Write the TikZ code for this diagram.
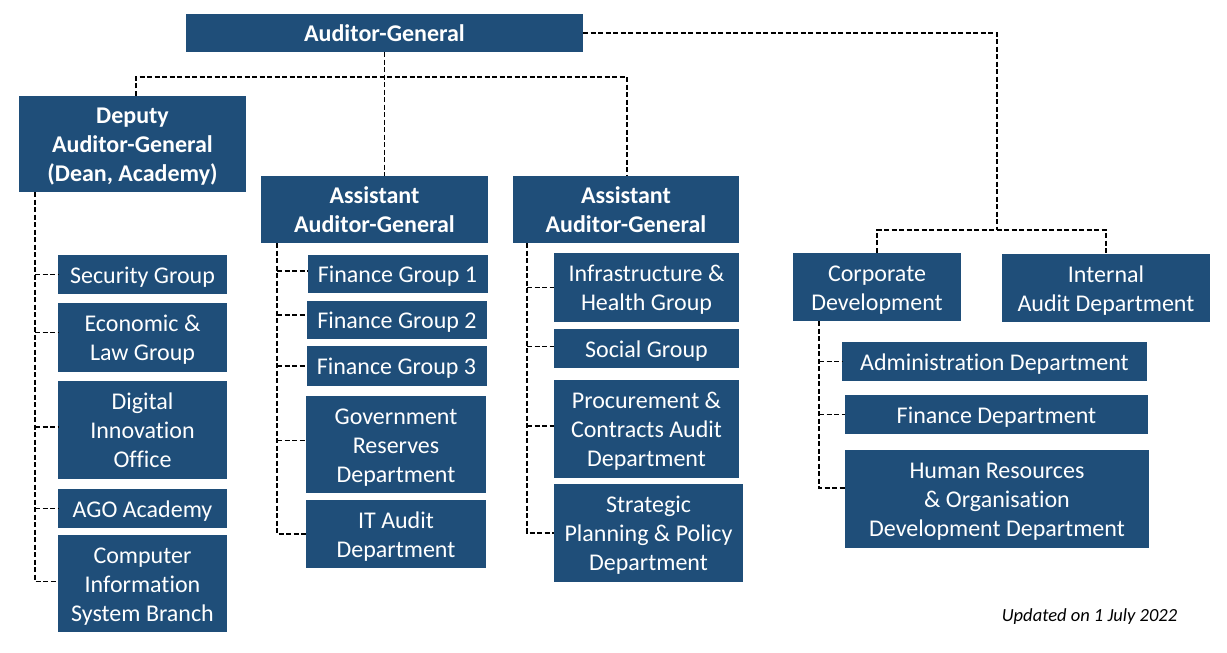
\documentclass[tikz,border=0pt]{standalone}
\usepackage{fontspec}
\setmainfont{Carlito}[Ligatures=NoCommon]
\definecolor{boxblue}{RGB}{31,78,121}
\newcommand\ft{\rule{0pt}{0.98em}}
\tikzset{
  box/.style={fill=boxblue, draw=none, text=white, align=center, inner sep=0pt,
    font=\fontsize{24}{29}\selectfont,
    execute at end node={\rule[-0.25em]{0pt}{0.25em}}},
  conn/.style={draw=black, line width=1.8pt, dash pattern=on 5pt off 2.5pt}
}
\begin{document}
\begin{tikzpicture}[x=1pt,y=-1pt]
\useasboundingbox (0,0) rectangle (1227,653);
% top level
\node[box, minimum width=397pt, minimum height=38pt] (AG) at (384.5,33) {\ft\bfseries Auditor-General};
\node[box, minimum width=227pt, minimum height=96pt] (DAG) at (132.5,144) {\ft\bfseries Deputy\\\bfseries Auditor-General\\\bfseries (Dean, Academy)};
\node[box, minimum width=227pt, minimum height=67pt] (AAGa) at (374.5,209.5) {\ft\bfseries Assistant\\\bfseries Auditor-General};
\node[box, minimum width=226pt, minimum height=67pt] (AAGb) at (626,209.5) {\ft\bfseries Assistant\\\bfseries Auditor-General};
\node[box, minimum width=168pt, minimum height=68pt] (CD) at (877,287) {\ft Corporate\\Development};
\node[box, minimum width=208pt, minimum height=68pt] (IA) at (1106,288) {\ft Internal\\Audit Department};
% left column
\node[box, minimum width=169pt, minimum height=39pt] (SG) at (142.5,274.5) {\ft Security Group};
\node[box, minimum width=169pt, minimum height=69pt] (EL) at (142.5,337.5) {\ft Economic \&\\Law Group};
\node[box, minimum width=169pt, minimum height=98pt] (DIO) at (142.5,430) {\ft Digital\\Innovation\\Office};
\node[box, minimum width=169pt, minimum height=39pt] (AGO) at (142.5,508.5) {\ft AGO Academy};
\node[box, minimum width=169pt, minimum height=97pt] (CIS) at (142.5,583.5) {\ft Computer\\Information\\System Branch};
% middle column
\node[box, minimum width=180pt, minimum height=38pt] (FGa) at (397.5,274) {\ft Finance Group 1};
\node[box, minimum width=180pt, minimum height=38pt] (FGb) at (397,320) {\ft Finance Group 2};
\node[box, minimum width=180pt, minimum height=40pt] (FGc) at (396.5,366) {\ft Finance Group 3};
\node[box, minimum width=180pt, minimum height=97pt] (GRD) at (396,444.5) {\ft Government\\Reserves\\Department};
\node[box, minimum width=180pt, minimum height=68pt] (ITA) at (396,534) {\ft IT Audit\\Department};
% third column
\node[box, minimum width=185pt, minimum height=69pt] (IHG) at (646.5,287.5) {\ft Infrastructure \&\\Health Group};
\node[box, minimum width=185pt, minimum height=39pt] (SoG) at (646.5,348.5) {\ft Social Group};
\node[box, minimum width=185pt, minimum height=98pt] (PCA) at (646.5,429) {\ft Procurement \&\\Contracts Audit\\Department};
\node[box, minimum width=189pt, minimum height=98pt] (SPP) at (648.5,533) {\ft Strategic\\Planning \& Policy\\Department};
% right column
\node[box, minimum width=305pt, minimum height=39pt] (AD) at (994.5,361.5) {\ft Administration Department};
\node[box, minimum width=303pt, minimum height=39pt] (FD) at (996.5,414.5) {\ft Finance Department};
\node[box, minimum width=304pt, minimum height=98pt] (HR) at (997,499) {\ft Human Resources\\\& Organisation\\Development Department};
% note
\node[font=\fontsize{18.5}{22}\selectfont\itshape, inner sep=0pt] (note) at (1089.5,617) {Updated on 1 July 2022};
% coordinates for junctions
\coordinate (barL) at (136,77);
\coordinate (barR) at (627,77);
\coordinate (rj) at (997,230);
\coordinate (lsx) at (35,0);
\coordinate (msx) at (277,0);
\coordinate (tsx) at (527,0);
\coordinate (rsx) at (819,0);
% top connectors
\draw[conn] (AG.south) -- (AG.south |- AAGa.north);
\draw[conn] (barL |- DAG.north) -- (barL) -- (barR) -- (barR |- AAGb.north);
\draw[conn] (AG.east) -| (rj);
\draw[conn] (CD.north) |- (IA.north |- rj) -- (IA.north);
% left spine
\draw[conn] (lsx |- DAG.south) |- ([yshift=2pt]CIS.west);
\draw[conn] (lsx |- SG.west) -- (SG.west);
\draw[conn] ([yshift=5pt]lsx |- EL.west) -- ([yshift=5pt]EL.west);
\draw[conn] ([yshift=3pt]lsx |- DIO.west) -- ([yshift=3pt]DIO.west);
\draw[conn] (lsx |- AGO.west) -- (AGO.west);
% middle spine
\draw[conn] (msx |- AAGa.south) |- (ITA.west);
\draw[conn] ([yshift=3pt]msx |- FGa.west) -- ([yshift=3pt]FGa.west);
\draw[conn] ([yshift=5pt]msx |- FGb.west) -- ([yshift=5pt]FGb.west);
\draw[conn] (msx |- FGc.west) -- (FGc.west);
\draw[conn] ([yshift=4pt]msx |- GRD.west) -- ([yshift=4pt]GRD.west);
% third spine
\draw[conn] (tsx |- AAGb.south) |- (SPP.west);
\draw[conn] (tsx |- IHG.west) -- (IHG.west);
\draw[conn] ([yshift=2pt]tsx |- SoG.west) -- ([yshift=2pt]SoG.west);
\draw[conn] ([yshift=3pt]tsx |- PCA.west) -- ([yshift=3pt]PCA.west);
% right spine
\draw[conn] (rsx |- CD.south) |- ([yshift=11pt]HR.west);
\draw[conn] (rsx |- AD.west) -- (AD.west);
\draw[conn] (rsx |- FD.west) -- (FD.west);
\end{tikzpicture}
\end{document}
